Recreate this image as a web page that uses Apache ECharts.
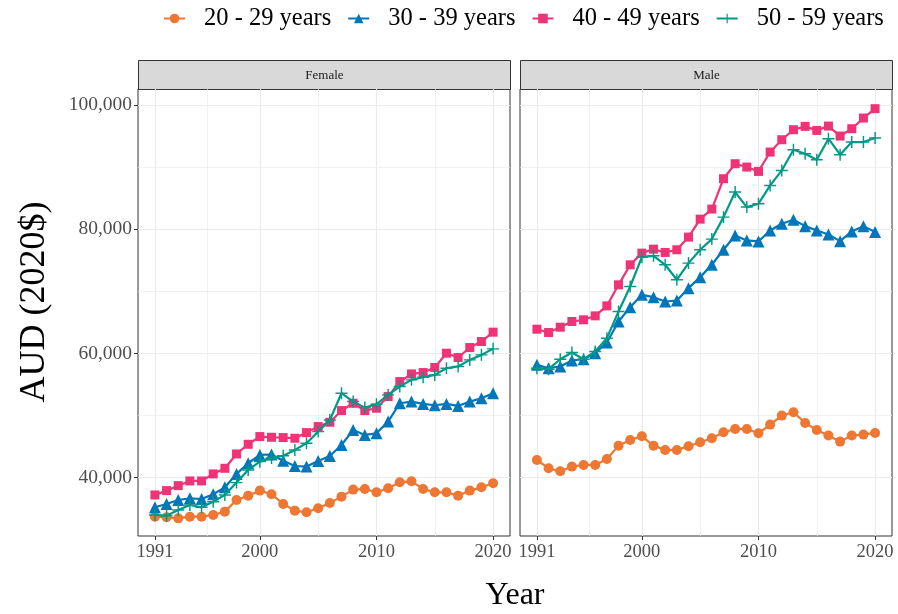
<!DOCTYPE html>
<html>
<head>
<meta charset="utf-8">
<script src="https://cdn.jsdelivr.net/npm/echarts@6/dist/echarts.min.js"></script>
<style>
  html, body { margin: 0; padding: 0; background: #fff; }
  #chart { width: 898px; height: 614px; }
</style>
</head>
<body>
<div id="chart"></div>
<script>
// Average annual income by age group, in 2020 Australian dollars
const years = [1991, 1992, 1993, 1994, 1995, 1996, 1997, 1998, 1999, 2000,
               2001, 2002, 2003, 2004, 2005, 2006, 2007, 2008, 2009, 2010,
               2011, 2012, 2013, 2014, 2015, 2016, 2017, 2018, 2019, 2020];

const groups = ['20 - 29 years', '30 - 39 years', '40 - 49 years', '50 - 59 years'];
const panels = ['Female', 'Male'];

const female20 = [33680, 33580, 33410, 33680, 33680, 33950, 34490, 36370, 37070, 37880,
                  37290, 35730, 34650, 34380, 35030, 35890, 36910, 38040, 38150, 37610,
                  38250, 39220, 39380, 38150, 37610, 37610, 37070, 37880, 38410, 39060];
const female30 = [35190, 35730, 36370, 36640, 36530, 37290, 38410, 40570, 42290, 43630,
                  43700, 42700, 41850, 41750, 42660, 43470, 45240, 47660, 46860, 47120,
                  49010, 51960, 52230, 51860, 51640, 51860, 51530, 52230, 52770, 53580];
const female40 = [37180, 37880, 38680, 39440, 39440, 40570, 41480, 43790, 45350, 46590,
                  46480, 46430, 46320, 47230, 48200, 48900, 50780, 51960, 50780, 51160,
                  53040, 55460, 56690, 56910, 57720, 60030, 59330, 60940, 61910, 63420];
const female50 = [33950, 33840, 34760, 35560, 35190, 36100, 37180, 39170, 41210, 42550,
                  43150, 43500, 44440, 45510, 47390, 49270, 53580, 52230, 51260, 51800,
                  53310, 54650, 55730, 56160, 56530, 57610, 57880, 58950, 59760, 60730];

const male20 = [42820, 41480, 40990, 41750, 42020, 42020, 42980, 45130, 46050, 46640,
                45130, 44440, 44440, 45030, 45670, 46320, 47290, 47820, 47820, 47120,
                48520, 49970, 50510, 48790, 47660, 46750, 45780, 46750, 46910, 47180];
const male30 = [58150, 57610, 57880, 58850, 59060, 60030, 61750, 65140, 67450, 69440,
                69060, 68360, 68520, 70510, 72290, 74280, 76700, 79010, 78200, 78040,
                79810, 80890, 81530, 80510, 79810, 79170, 78090, 79650, 80510, 79550];
const male40 = [63900, 63360, 64220, 65140, 65410, 66050, 67660, 71050, 74280, 76160,
                76800, 76270, 76700, 78740, 81640, 83260, 88150, 90570, 90030, 89330,
                92450, 94440, 96050, 96590, 95940, 96640, 95030, 96210, 97930, 99440];
const male50 = [57610, 57450, 59060, 60140, 59060, 60300, 62450, 66750, 70780, 75510,
                75730, 74280, 71860, 74550, 76700, 78420, 81960, 86000, 83580, 84120,
                87070, 89490, 92830, 92180, 91210, 94600, 92020, 94060, 94060, 94710];

const yearTicks = [1991, 2000, 2010, 2020];
const yearMinor = [1995.5, 2005, 2015];
const incomeTicks = [40000, 60000, 80000, 100000];
const incomeMinor = [50000, 70000, 90000];

const colors = ['#EE7733', '#0077BB', '#EE3377', '#009988'];
const plusPath = 'path://M4.4,0H5.6V4.4H10V5.6H5.6V10H4.4V5.6H0V4.4H4.4Z';
const symbols = ['circle', 'triangle', 'rect', plusPath];
const symbolSizes = [10, 12, 9, 12];

const SERIF = 'Liberation Serif';
const X_RANGE = [1989.55, 2021.45];
const Y_RANGE = [30565, 102613];

const grids = [
  { left: 138, top: 89, width: 372, height: 447 },
  { left: 520, top: 89, width: 372, height: 447 }
].map(g => Object.assign(g, {
  show: true, backgroundColor: '#fff', borderColor: '#333333', borderWidth: 1,
  containLabel: false, outerBoundsMode: 'none'
}));

const gridLine = (w) => ({ show: true, lineStyle: { color: '#EBEBEB', width: w } });

function xAxes(gi) {
  return [
    {
      type: 'value', gridIndex: gi, min: X_RANGE[0], max: X_RANGE[1],
      axisLine: { show: false },
      axisTick: { show: true, customValues: yearTicks, length: 4, lineStyle: { color: '#333333' } },
      axisLabel: { show: true, customValues: yearTicks, margin: 7, color: '#4D4D4D',
                   fontFamily: SERIF, fontSize: 18.5, formatter: v => String(v) },
      splitLine: gridLine(1.2)
    },
    {
      type: 'value', gridIndex: gi, min: X_RANGE[0], max: X_RANGE[1],
      axisLine: { show: false },
      axisTick: { show: false, customValues: yearMinor },
      axisLabel: { show: false },
      splitLine: gridLine(0.7)
    }
  ];
}

function yAxes(gi, withLabels) {
  return [
    {
      type: 'value', gridIndex: gi, min: Y_RANGE[0], max: Y_RANGE[1],
      axisLine: { show: false },
      axisTick: { show: withLabels, customValues: incomeTicks, length: 4, lineStyle: { color: '#333333' } },
      axisLabel: { show: withLabels, customValues: incomeTicks, margin: 6, color: '#4D4D4D',
                   fontFamily: SERIF, fontSize: 19.5,
                   formatter: v => Number(v).toLocaleString('en-US') },
      splitLine: gridLine(1.2)
    },
    {
      type: 'value', gridIndex: gi, min: Y_RANGE[0], max: Y_RANGE[1],
      axisLine: { show: false },
      axisTick: { show: false, customValues: incomeMinor },
      axisLabel: { show: false },
      splitLine: gridLine(0.7)
    }
  ];
}

const panelData = [
  [female20, female30, female40, female50],
  [male20, male30, male40, male50]
];

const series = [];
panelData.forEach((sets, pi) => {
  sets.forEach((vals, k) => {
    series.push({
      type: 'line',
      name: groups[k],
      xAxisIndex: pi * 2,
      yAxisIndex: pi * 2,
      data: years.map((yr, i) => [yr, vals[i]]),
      symbol: symbols[k],
      symbolSize: symbolSizes[k],
      showSymbol: true,
      color: colors[k],
      itemStyle: { color: colors[k] },
      lineStyle: { color: colors[k], width: 2.2 },
      z: 2 + k,
      emphasis: { disabled: true }
    });
  });
});

function strip(gi, label) {
  const g = grids[gi];
  return {
    type: 'group', left: g.left, top: 60,
    children: [
      { type: 'rect', shape: { x: 0, y: 0, width: g.width, height: 29 },
        style: { fill: '#D9D9D9', stroke: '#333333', lineWidth: 1 } },
      { type: 'text', x: g.width / 2, y: 15,
        style: { text: label, fontFamily: SERIF, fontSize: 13, fill: '#1A1A1A',
                 align: 'center', verticalAlign: 'middle' } }
    ]
  };
}

const chart = echarts.init(document.getElementById('chart'), null, { renderer: 'canvas' });
chart.setOption({
  animation: false,
  backgroundColor: '#fff',
  legend: {
    data: groups,
    top: 6, left: 163, width: 735, padding: 0,
    itemWidth: 21, itemHeight: 12, itemGap: 16,
    textStyle: { fontFamily: SERIF, fontSize: 24.5, color: '#000', padding: [0, 0, 0, 14] }
  },
  grid: grids,
  xAxis: [...xAxes(0), ...xAxes(1)],
  yAxis: [...yAxes(0, true), ...yAxes(1, false)],
  series: series,
  graphic: [
    strip(0, panels[0]),
    strip(1, panels[1]),
    { type: 'text', x: 35, y: 302, rotation: Math.PI / 2,
      style: { text: 'AUD (2020$)', fontFamily: SERIF, fontSize: 36, fill: '#000',
               align: 'center', verticalAlign: 'middle' } },
    { type: 'text', x: 515, y: 596,
      style: { text: 'Year', fontFamily: SERIF, fontSize: 32, fill: '#000',
               align: 'center', verticalAlign: 'middle' } }
  ]
});
</script>
</body>
</html>
